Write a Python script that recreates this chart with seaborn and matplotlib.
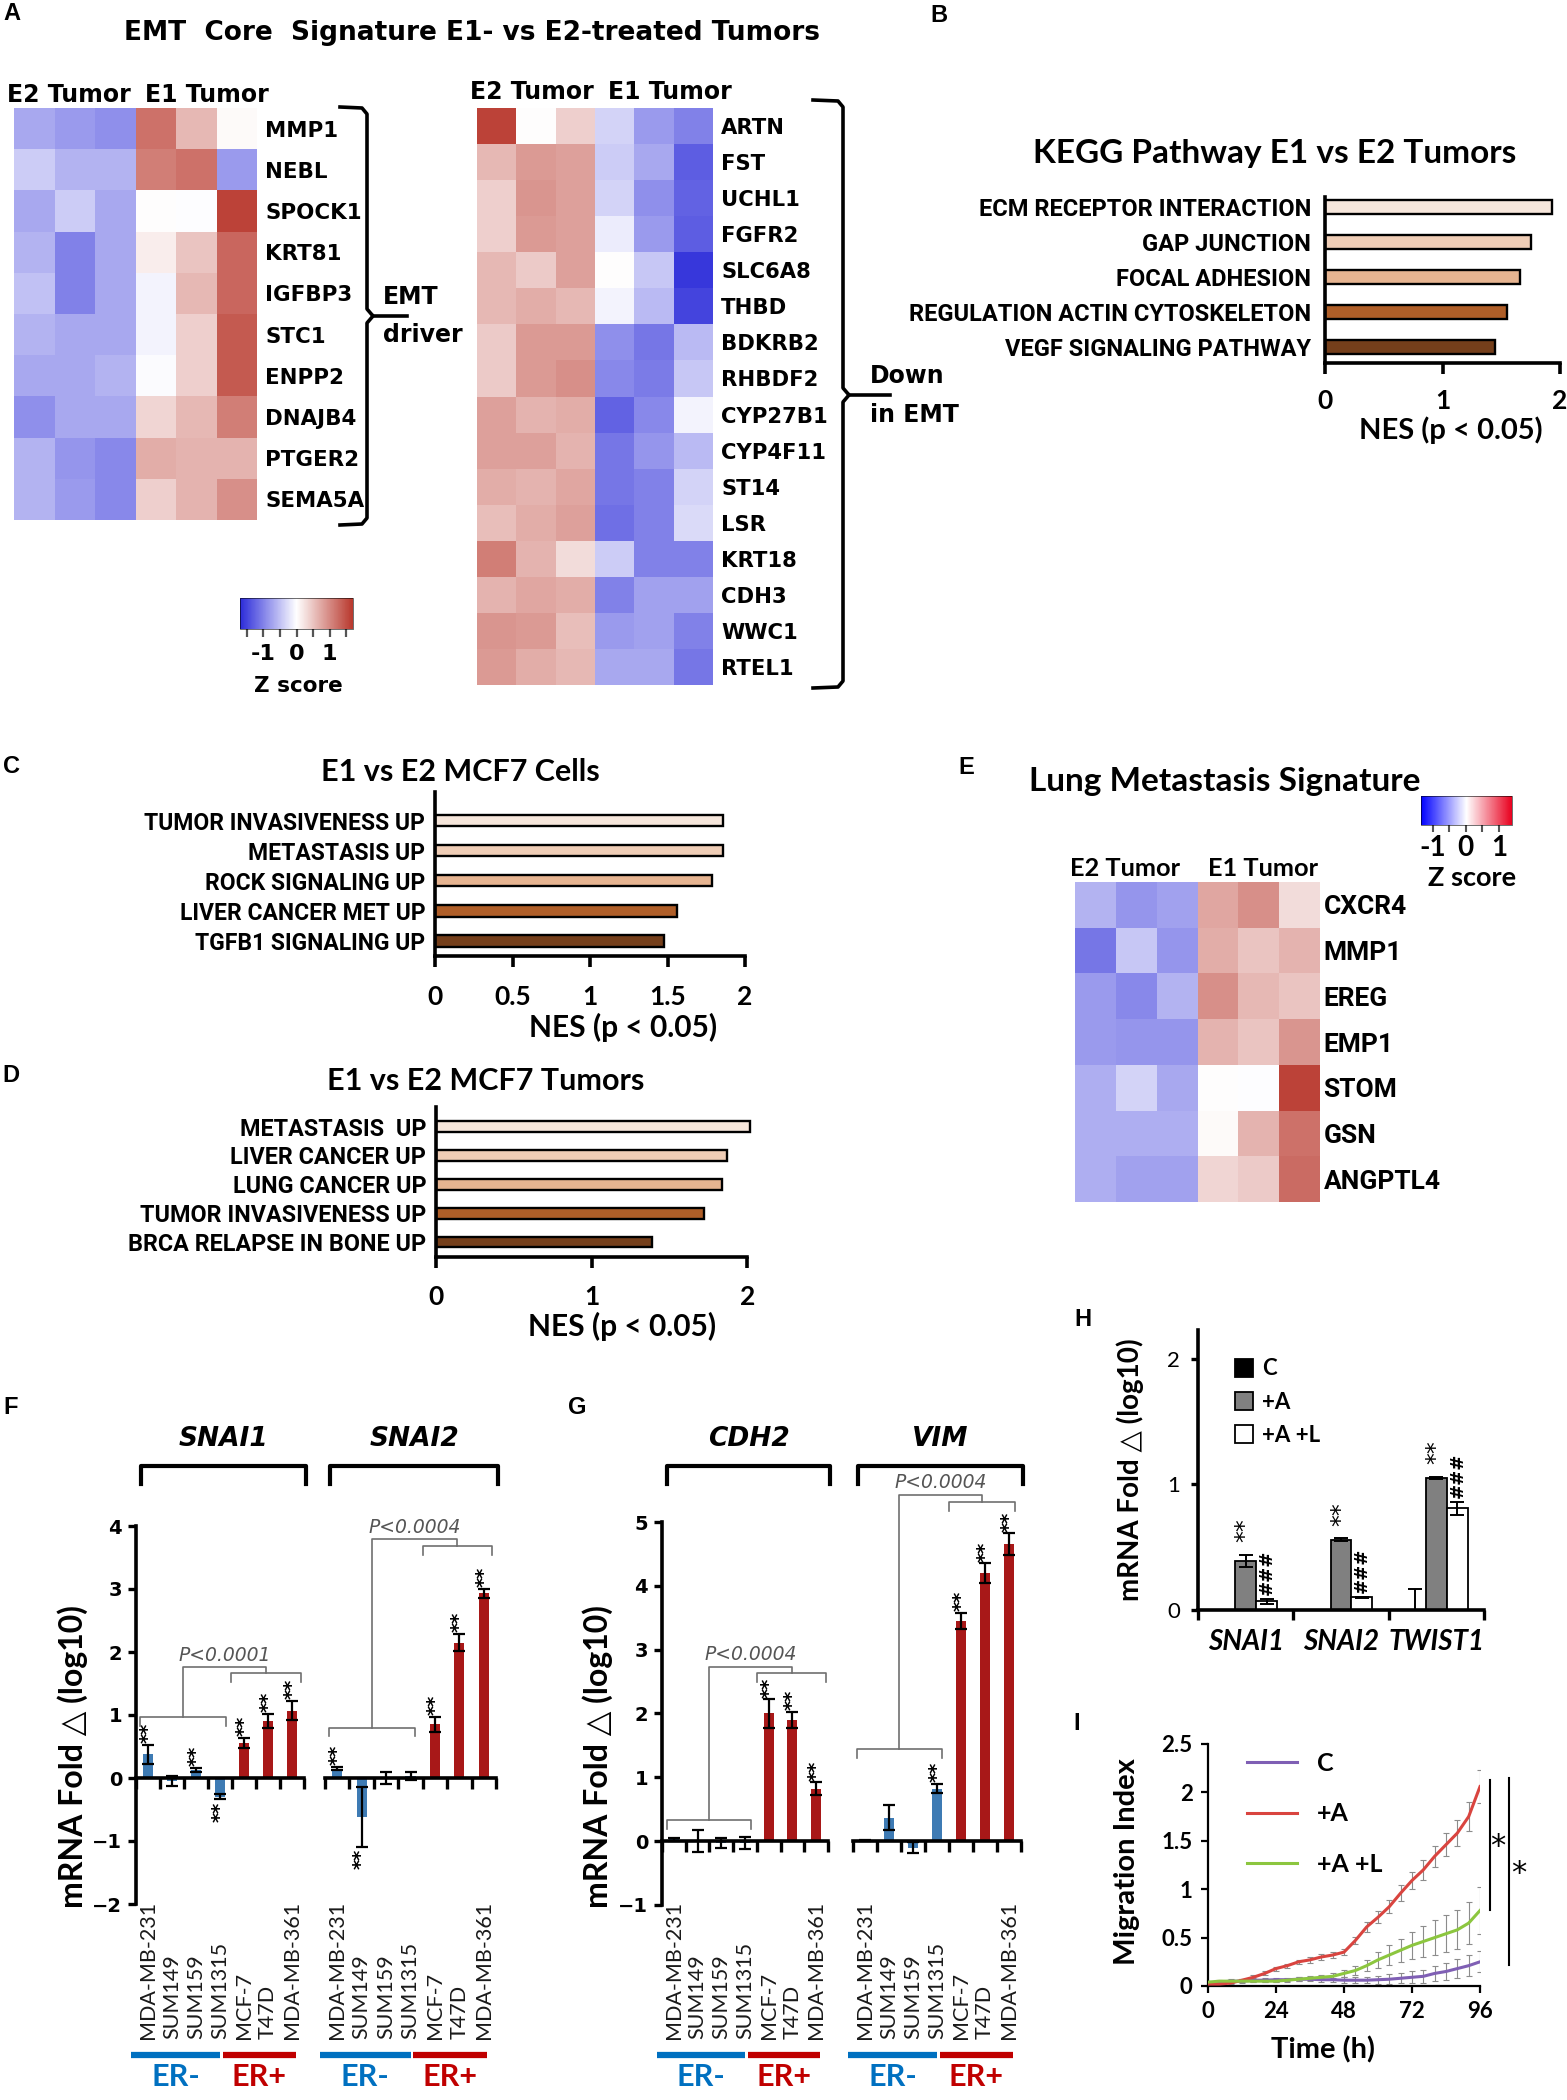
import matplotlib
matplotlib.use("Agg")
import matplotlib.pyplot as plt
import matplotlib.transforms as mtransforms
from matplotlib.cm import ScalarMappable
from matplotlib.colors import LinearSegmentedColormap, Normalize
from matplotlib.container import BarContainer
from matplotlib.lines import Line2D
import numpy as np
import pandas as pd
import seaborn as sns

W, H = 1567, 2100

VERD = ["DejaVu Sans"]
ARIAL = ["Liberation Sans", "DejaVu Sans"]
NARROW = ["Roboto", "DejaVu Sans"]
CAL = ["Lato", "DejaVu Sans"]

# ---------------- data ----------------
samples = ["E2 T1", "E2 T2", "E2 T3", "E1 T1", "E1 T2", "E1 T3"]

driver_genes = ["MMP1", "NEBL", "SPOCK1", "KRT81", "IGFBP3", "STC1", "ENPP2",
                "DNAJB4", "PTGER2", "SEMA5A"]
driver_z = [[-0.7, -0.8, -0.9, 1.2, 0.6, 0.05],
            [-0.4, -0.6, -0.6, 1.1, 1.2, -0.8],
            [-0.7, -0.4, -0.7, 0.02, -0.02, 1.6],
            [-0.6, -1.0, -0.7, 0.15, 0.5, 1.3],
            [-0.5, -1.0, -0.7, -0.1, 0.6, 1.3],
            [-0.6, -0.7, -0.7, -0.1, 0.4, 1.4],
            [-0.7, -0.7, -0.6, -0.03, 0.4, 1.4],
            [-0.9, -0.7, -0.7, 0.35, 0.6, 1.1],
            [-0.6, -0.85, -0.95, 0.7, 0.65, 0.65],
            [-0.6, -0.8, -0.95, 0.4, 0.65, 0.95]]

down_genes = ["ARTN", "FST", "UCHL1", "FGFR2", "SLC6A8", "THBD", "BDKRB2", "RHBDF2",
              "CYP27B1", "CYP4F11", "ST14", "LSR", "KRT18", "CDH3", "WWC1", "RTEL1"]
down_z = [[1.6, 0.02, 0.4, -0.35, -0.8, -1.0],
          [0.6, 0.85, 0.8, -0.4, -0.7, -1.3],
          [0.4, 0.9, 0.8, -0.35, -0.9, -1.25],
          [0.4, 0.85, 0.8, -0.15, -0.8, -1.3],
          [0.6, 0.45, 0.8, 0.02, -0.45, -1.6],
          [0.6, 0.7, 0.6, -0.1, -0.55, -1.5],
          [0.45, 0.85, 0.85, -0.9, -1.1, -0.55],
          [0.45, 0.85, 0.95, -0.95, -1.05, -0.45],
          [0.8, 0.65, 0.7, -1.25, -0.95, -0.1],
          [0.8, 0.8, 0.65, -1.1, -0.85, -0.55],
          [0.7, 0.65, 0.75, -1.1, -1.0, -0.35],
          [0.55, 0.7, 0.8, -1.15, -1.0, -0.3],
          [1.1, 0.65, 0.3, -0.4, -1.0, -1.0],
          [0.65, 0.75, 0.7, -1.0, -0.75, -0.75],
          [0.9, 0.85, 0.55, -0.8, -0.75, -1.0],
          [0.85, 0.7, 0.6, -0.7, -0.7, -1.1]]

lung_genes = ["CXCR4", "MMP1", "EREG", "EMP1", "STOM", "GSN", "ANGPTL4"]
lung_z = [[-0.6, -0.85, -0.75, 0.75, 0.95, 0.3],
          [-1.1, -0.45, -0.85, 0.7, 0.5, 0.65],
          [-0.8, -0.95, -0.6, 0.95, 0.6, 0.5],
          [-0.8, -0.85, -0.85, 0.65, 0.5, 0.9],
          [-0.65, -0.35, -0.7, 0.02, -0.02, 1.6],
          [-0.65, -0.65, -0.65, 0.05, 0.65, 1.2],
          [-0.65, -0.75, -0.75, 0.35, 0.45, 1.25]]

kegg_terms = ["ECM RECEPTOR INTERACTION", "GAP JUNCTION", "FOCAL ADHESION",
              "REGULATION ACTIN CYTOSKELETON", "VEGF SIGNALING PATHWAY"]
kegg_nes = [1.93, 1.75, 1.66, 1.55, 1.45]
cells_terms = ["TUMOR INVASIVENESS UP", "METASTASIS UP", "ROCK SIGNALING UP",
               "LIVER CANCER MET UP", "TGFB1 SIGNALING UP"]
cells_nes = [1.86, 1.86, 1.79, 1.56, 1.48]
tumor_terms = ["METASTASIS  UP", "LIVER CANCER UP", "LUNG CANCER UP",
               "TUMOR INVASIVENESS UP", "BRCA RELAPSE IN BONE UP"]
tumor_nes = [2.02, 1.87, 1.84, 1.72, 1.39]
nes_colors = ["#FBE5D6", "#F8CBAD", "#F4B183", "#C55A11", "#843C0C"]

cell_lines = ["MDA-MB-231", "SUM149", "SUM159", "SUM1315", "MCF-7", "T47D", "MDA-MB-361"]
er_status = ["ER-", "ER-", "ER-", "ER-", "ER+", "ER+", "ER+"]
snai1_val = [0.38, -0.05, 0.13, -0.3, 0.55, 0.9, 1.07]
snai1_err = [0.15, 0.08, 0.03, 0.04, 0.08, 0.11, 0.15]
snai1_sig = ["**", "", "**", "**", "**", "**", "**"]
snai2_val = [0.15, -0.62, 0.0, 0.03, 0.85, 2.15, 2.93]
snai2_err = [0.02, 0.48, 0.09, 0.06, 0.12, 0.13, 0.07]
snai2_sig = ["**", "**", "", "", "**", "**", "**"]
cdh2_val = [0.03, 0.0, -0.03, -0.03, 2.0, 1.9, 0.82]
cdh2_err = [0.02, 0.17, 0.08, 0.1, 0.22, 0.13, 0.1]
cdh2_sig = ["", "", "", "", "**", "**", "**"]
vim_val = [0.01, 0.37, -0.1, 0.82, 3.45, 4.2, 4.65]
vim_err = [0.01, 0.2, 0.08, 0.07, 0.13, 0.15, 0.17]
vim_sig = ["", "", "", "**", "**", "**", "**"]

h_genes = ["SNAI1", "SNAI2", "TWIST1"]
h_treat = ["C", "+A", "+A +L"]
h_c = [0.0, 0.0, 0.0]
h_c_err = [0.0, 0.0, 0.17]
h_a = [0.39, 0.56, 1.05]
h_a_err = [0.05, 0.01, 0.01]
h_al = [0.07, 0.1, 0.81]
h_al_err = [0.02, 0.005, 0.05]
h_a_sig = ["**", "**", "**"]
h_al_sig = ["###", "###", "###"]

time_h = [0, 4, 8, 12, 16, 20, 24, 28, 32, 36, 40, 44, 48,
          52, 56, 60, 64, 68, 72, 76, 80, 84, 88, 92, 96]
mig_c = [0.03, 0.04, 0.05, 0.05, 0.06, 0.06, 0.065, 0.065, 0.07, 0.07, 0.065, 0.065, 0.06,
         0.06, 0.06, 0.065, 0.07, 0.08, 0.09, 0.1, 0.13, 0.15, 0.18, 0.21, 0.25]
mig_c_err = [0.01, 0.01, 0.02, 0.02, 0.02, 0.02, 0.02, 0.02, 0.02, 0.02, 0.02, 0.02, 0.03,
             0.03, 0.03, 0.04, 0.05, 0.05, 0.06, 0.07, 0.08, 0.09, 0.1, 0.11, 0.11]
mig_a = [0.02, 0.02, 0.03, 0.06, 0.09, 0.13, 0.18, 0.21, 0.25, 0.27, 0.3, 0.32, 0.35,
         0.47, 0.61, 0.71, 0.82, 0.96, 1.09, 1.2, 1.34, 1.46, 1.58, 1.75, 2.06]
mig_a_err = [0.01, 0.01, 0.01, 0.01, 0.02, 0.02, 0.02, 0.02, 0.02, 0.03, 0.03, 0.03, 0.03,
             0.04, 0.05, 0.06, 0.07, 0.08, 0.09, 0.1, 0.11, 0.12, 0.13, 0.15, 0.17]
mig_al = [0.04, 0.05, 0.05, 0.05, 0.05, 0.05, 0.05, 0.06, 0.07, 0.08, 0.09, 0.1, 0.13,
          0.16, 0.21, 0.27, 0.32, 0.37, 0.42, 0.46, 0.5, 0.54, 0.58, 0.65, 0.78]
mig_al_err = [0.01, 0.01, 0.01, 0.01, 0.01, 0.01, 0.01, 0.01, 0.02, 0.02, 0.02, 0.03, 0.04,
              0.05, 0.06, 0.08, 0.1, 0.12, 0.14, 0.16, 0.18, 0.19, 0.2, 0.22, 0.24]

BAR_BLUE = "#2A7BC8"
BAR_RED = "#C00000"
TXT_BLUE = "#0070C0"
zcmap = LinearSegmentedColormap.from_list("z", ["#2B2BD9", "#FFFFFF", "#B8372C"])
zcmap_bright = LinearSegmentedColormap.from_list("zb", ["#0000FF", "#FFFFFF", "#E8001E"])

fig = plt.figure(figsize=(W / 100, H / 100), dpi=100)


def axes_px(x0, y0, x1, y1):
    return fig.add_axes([x0 / W, 1 - y1 / H, (x1 - x0) / W, (y1 - y0) / H])


def ftext(x, y, s, **kw):
    kw.setdefault("ha", "center")
    kw.setdefault("va", "center")
    fig.text(x / W, 1 - y / H, s, **kw)


def fline(xs, ys, **kw):
    fig.add_artist(Line2D([x / W for x in xs], [1 - y / H for y in ys],
                          transform=fig.transFigure, **kw))


def letter(x, y, s):
    ftext(x, y, s, family=ARIAL, weight="bold", size=17)


def draw_heat(ax, z, genes, size, pad, family):
    df = pd.DataFrame(z, index=genes, columns=samples)
    sns.heatmap(df, ax=ax, cmap=zcmap, vmin=-1.7, vmax=1.7, cbar=False,
                xticklabels=False, yticklabels=True)
    ax.yaxis.tick_right()
    ax.tick_params(axis="y", length=0, pad=pad)
    plt.setp(ax.get_yticklabels(), rotation=0, family=family, weight="bold", size=size)
    ax.set_xlabel("")
    ax.set_ylabel("")


def draw_nes(ax, terms, nes, ylim, xmax, ticks, tlabels, lab_size, tick_size, pad, lpad):
    sns.barplot(x=nes, y=terms, hue=terms, palette=nes_colors, dodge=False, legend=False,
                orient="h", width=0.38, edgecolor="black", linewidth=1.7, ax=ax)
    ax.set_xlim(0, xmax)
    ax.set_ylim(*ylim)
    for s in ["top", "right"]:
        ax.spines[s].set_visible(False)
    for s in ["left", "bottom"]:
        ax.spines[s].set_linewidth(2.6)
    ax.spines["bottom"].set_bounds(0, 2)
    ax.set_xticks(ticks, labels=tlabels)
    ax.tick_params(axis="x", direction="out", length=8, width=2.6, pad=pad)
    ax.tick_params(axis="y", length=0, pad=lpad)
    plt.setp(ax.get_yticklabels(), family=NARROW, weight="bold", size=lab_size)
    plt.setp(ax.get_xticklabels(), family=CAL, weight="bold", size=tick_size)
    ax.set_xlabel("")
    ax.set_ylabel("")


def curly(x0, xv, xt, y0, ym, y1):
    kw = dict(color="black", lw=2.6, solid_joinstyle="round")
    fline([x0, xv - 5, xv, xv, xv + 6, xt], [y0, y0 + 1, y0 + 7, ym - 7, ym, ym], **kw)
    fline([xv + 6, xv, xv, xv - 5, x0], [ym, ym + 7, y1 - 7, y1 - 1, y1], **kw)


def pbracket(ax, a, ya, b, yb, ytop, text, ytext, leg=0.14):
    kw = dict(color="#707070", lw=1.2, clip_on=False)
    ax.plot([a[0], a[0], a[1], a[1]], [ya - leg, ya, ya, ya - leg], **kw)
    ax.plot([b[0], b[0], b[1], b[1]], [yb - leg, yb, yb, yb - leg], **kw)
    ma, mb = (a[0] + a[1]) / 2, (b[0] + b[1]) / 2
    ax.plot([ma, ma, mb, mb], [ya, ytop, ytop, yb], **kw)
    ax.text((ma + mb) / 2, ytext, text, ha="center", va="center", style="italic",
            color="#555555", fontsize=13.5, family=VERD, clip_on=False)


def draw_expr(ax, gene, vals, errs, sig, ylim, yticks, show_y):
    sns.barplot(x=cell_lines, y=vals, hue=er_status,
                palette={"ER-": BAR_BLUE, "ER+": BAR_RED}, dodge=False, legend=False,
                width=0.42, linewidth=0, ax=ax)
    ax.errorbar(range(len(vals)), vals, yerr=errs, fmt="none", ecolor="black",
                elinewidth=1.6, capsize=4, capthick=1.6, zorder=3)
    for i, s in enumerate(sig):
        if not s:
            continue
        if vals[i] >= 0:
            ax.text(i, vals[i] + errs[i] + 0.03, s, rotation=90, ha="center", va="bottom",
                    fontsize=14, fontweight="bold", clip_on=False)
        else:
            ax.text(i, vals[i] - errs[i] - 0.03, s, rotation=90, ha="center", va="top",
                    fontsize=14, fontweight="bold", clip_on=False)
    for s in ["top", "right"]:
        ax.spines[s].set_visible(False)
    ax.spines["bottom"].set_position(("data", 0))
    ax.spines["bottom"].set_linewidth(2.6)
    ax.set_xticks(np.arange(-0.5, 7, 1), labels=[])
    ax.tick_params(axis="x", direction="out", length=8, width=2.4)
    if show_y:
        ax.spines["left"].set_linewidth(2.6)
        ax.set_yticks(yticks)
        ax.tick_params(axis="y", direction="out", length=6, width=2.4, pad=4)
        plt.setp(ax.get_yticklabels(), family=VERD, weight="bold", size=14)
    else:
        ax.spines["left"].set_visible(False)
        ax.tick_params(axis="y", left=False, labelleft=False)
    ax.set_xlabel("")
    ax.set_ylabel("")
    tr = mtransforms.blended_transform_factory(ax.transData, fig.transFigure)
    for i, c in enumerate(cell_lines):
        ax.text(i, 1 - 2039 / H, c, transform=tr, rotation=90, ha="center", va="bottom",
                fontsize=15.5, family=CAL, color="#1a1a1a")
    yg = 1 - 2055 / H
    ax.plot([-0.7, 3.0], [yg, yg], transform=tr, color=TXT_BLUE, lw=4.5,
            solid_capstyle="butt", clip_on=False)
    ax.plot([3.12, 6.15], [yg, yg], transform=tr, color=BAR_RED, lw=4.5,
            solid_capstyle="butt", clip_on=False)
    ax.text(1.15, 1 - 2077 / H, "ER-", transform=tr, ha="center", va="center",
            fontsize=22, weight="bold", family=CAL, color=TXT_BLUE)
    ax.text(4.63, 1 - 2077 / H, "ER+", transform=tr, ha="center", va="center",
            fontsize=22, weight="bold", family=CAL, color=BAR_RED)
    yb0, yb1 = 1 - 1484 / H, 1 - 1466 / H
    ax.plot([-0.3, -0.3, 6.6, 6.6], [yb0, yb1, yb1, yb0], transform=tr, color="black",
            lw=3.0, clip_on=False)
    ax.text(3.15, 1 - 1439 / H, gene, transform=tr, ha="center", va="center", fontsize=19,
            weight="bold", style="italic", family=VERD)
    ax.set_xlim(-0.5, 6.5)
    ax.set_ylim(*ylim)


# ---------------- panel A ----------------
letter(12, 14, "A")
ftext(472, 33, "EMT  Core  Signature E1- vs E2-treated Tumors", family=VERD,
      weight="bold", size=19)

ax = axes_px(14, 108, 257, 520)
draw_heat(ax, driver_z, driver_genes, 15.4, 6, VERD)
ftext(69, 95, "E2 Tumor", family=VERD, weight="bold", size=17)
ftext(207, 95, "E1 Tumor", family=VERD, weight="bold", size=17)
curly(340, 367, 407, 107, 316, 525)
ftext(383, 297, "EMT", ha="left", family=VERD, weight="bold", size=17)
ftext(383, 335, "driver", ha="left", family=VERD, weight="bold", size=17)

ax = axes_px(477, 108, 713, 685)
draw_heat(ax, down_z, down_genes, 15.2, 6, VERD)
ftext(532, 92, "E2 Tumor", family=VERD, weight="bold", size=17)
ftext(670, 92, "E1 Tumor", family=VERD, weight="bold", size=17)
curly(813, 843, 890, 100, 395, 688)
ftext(870, 376, "Down", ha="left", family=VERD, weight="bold", size=17)
ftext(870, 415, "in EMT", ha="left", family=VERD, weight="bold", size=17)

cax = axes_px(240, 598, 353, 629)
cb = fig.colorbar(ScalarMappable(Normalize(-1.7, 1.7), zcmap), cax=cax,
                  orientation="horizontal")
cb.set_ticks([-1.5, -1, -0.5, 0, 0.5, 1, 1.5])
cb.set_ticklabels(["", "-1", "", "0", "", "1", ""])
cb.outline.set_linewidth(0.4)
cax.tick_params(length=6, width=1.6, color="#555555", pad=5)
plt.setp(cax.get_xticklabels(), family=VERD, weight="bold", size=16)
ftext(298, 686, "Z score", family=VERD, weight="bold", size=15.5)

# ---------------- panel B ----------------
letter(939, 16, "B")
ftext(1275, 153, "KEGG Pathway E1 vs E2 Tumors", family=CAL, weight="bold", size=24)
ax = axes_px(1325, 197, 1560, 363)
draw_nes(ax, kegg_terms, kegg_nes, (4.46, -0.29), 2.0, [0, 1, 2], ["0", "1", "2"],
         17, 19, 11, 10)
ftext(1451, 430, "NES (p < 0.05)", family=CAL, weight="bold", size=21)

# ---------------- panel C ----------------
letter(11, 766, "C")
ftext(460, 772, "E1 vs E2 MCF7 Cells", family=CAL, weight="bold", size=22)
ax = axes_px(435, 792, 745, 956)
draw_nes(ax, cells_terms, cells_nes, (4.5, -0.95), 2.0, [0, 0.5, 1, 1.5, 2],
         ["0", "0.5", "1", "1.5", "2"], 16.5, 19, 13, 7)
ftext(623, 1027, "NES (p < 0.05)", family=CAL, weight="bold", size=21.5)

# ---------------- panel D ----------------
letter(11, 1076, "D")
ftext(486, 1081, "E1 vs E2 MCF7 Tumors", family=CAL, weight="bold", size=22)
ax = axes_px(436, 1107, 752, 1257)
draw_nes(ax, tumor_terms, tumor_nes, (4.52, -0.68), 2.03, [0, 1, 2], ["0", "1", "2"],
         16.8, 19, 12, 7)
ftext(622, 1326, "NES (p < 0.05)", family=CAL, weight="bold", size=21.5)

# ---------------- panel E ----------------
letter(966, 768, "E")
ftext(1225, 782, "Lung Metastasis Signature", family=CAL, weight="bold", size=24)
ax = axes_px(1075, 882, 1320, 1202)
draw_heat(ax, lung_z, lung_genes, 19, 2.5, NARROW)
ftext(1125, 868, "E2 Tumor", family=CAL, weight="bold", size=18.3)
ftext(1263, 868, "E1 Tumor", family=CAL, weight="bold", size=18.3)
cax = axes_px(1421, 796, 1512, 825)
cb = fig.colorbar(ScalarMappable(Normalize(-1.36, 1.4), zcmap_bright), cax=cax,
                  orientation="horizontal")
cb.set_ticks([-1, -0.5, 0, 0.5, 1])
cb.set_ticklabels(["-1", "", "0", "", "1"])
cb.outline.set_linewidth(0.4)
cax.tick_params(length=5, width=1.5, color="#555555", pad=2)
plt.setp(cax.get_xticklabels(), family=CAL, weight="bold", size=20)
ftext(1472, 878, "Z score", family=CAL, weight="bold", size=19.5)

# ---------------- panel F ----------------
letter(11, 1408, "F")
ax = axes_px(136, 1526, 304, 1904)
draw_expr(ax, "SNAI1", snai1_val, snai1_err, snai1_sig, (-2, 4), [-2, -1, 0, 1, 2, 3, 4], True)
pbracket(ax, (-0.33, 3.25), 0.97, (3.46, 6.37), 1.66, 1.76, "P<0.0001", 1.94)
ax = axes_px(325, 1526, 496, 1904)
draw_expr(ax, "SNAI2", snai2_val, snai2_err, snai2_sig, (-2, 4), [], False)
pbracket(ax, (-0.33, 3.2), 0.8, (3.5, 6.33), 3.68, 3.79, "P<0.0004", 3.98)
ftext(73, 1757, "mRNA Fold \u25b3 (log10)", rotation=90, family=CAL, weight="bold", size=23)

# ---------------- panel G ----------------
letter(577, 1408, "G")
ax = axes_px(662, 1522, 828, 1905)
draw_expr(ax, "CDH2", cdh2_val, cdh2_err, cdh2_sig, (-1, 5), [-1, 0, 1, 2, 3, 4, 5], True)
pbracket(ax, (-0.3, 3.26), 0.33, (3.51, 6.43), 2.64, 2.73, "P<0.0004", 2.92)
ax = axes_px(853, 1522, 1021, 1905)
draw_expr(ax, "VIM", vim_val, vim_err, vim_sig, (-1, 5), [], False)
pbracket(ax, (-0.34, 3.2), 1.45, (3.5, 6.24), 5.32, 5.43, "P<0.0004", 5.62)
ftext(598, 1757, "mRNA Fold \u25b3 (log10)", rotation=90, family=CAL, weight="bold", size=23)

# ---------------- panel H ----------------
letter(1083, 1320, "H")
ax = axes_px(1198, 1330, 1484, 1610)
h_df = pd.DataFrame({
    "gene": h_genes * 3,
    "treat": [t for t in h_treat for _ in h_genes],
    "val": h_c + h_a + h_al,
})
sns.barplot(data=h_df, x="gene", y="val", hue="treat", hue_order=h_treat,
            palette=["black", "#808080", "white"], edgecolor="black", linewidth=1.3,
            width=0.66, errorbar=None, ax=ax)
h_errs = [h_c_err, h_a_err, h_al_err]
h_vals = [h_c, h_a, h_al]
bar_conts = [c for c in ax.containers if isinstance(c, BarContainer)]
for k, cont in enumerate(bar_conts):
    xs = [b.get_x() + b.get_width() / 2 for b in cont]
    ax.errorbar(xs, h_vals[k], yerr=h_errs[k], fmt="none", ecolor="black",
                elinewidth=1.4, capsize=5, capthick=1.4, zorder=3)
    if k == 1:
        for x, v, e, s in zip(xs, h_vals[k], h_errs[k], h_a_sig):
            ax.text(x, v + e + 0.1, s, rotation=90, ha="center", va="bottom",
                    fontsize=17, color="black")
    if k == 2:
        for x, v, e, s in zip(xs, h_vals[k], h_errs[k], h_al_sig):
            ax.text(x, v + e + 0.03, s, rotation=90, ha="center", va="bottom",
                    fontsize=13, weight="bold", color="black")
ax.set_xlim(-0.5, 2.5)
ax.set_ylim(0, 2.23)
for s in ["top", "right"]:
    ax.spines[s].set_visible(False)
for s in ["left", "bottom"]:
    ax.spines[s].set_linewidth(2.6)
ax.set_xticks([-0.5, 0.5, 1.5, 2.5], labels=[])
ax.set_xticks([0, 1, 2], labels=h_genes, minor=True)
ax.tick_params(axis="x", which="major", direction="out", length=7, width=2.4)
ax.tick_params(axis="x", which="minor", length=0, pad=14)
plt.setp(ax.get_xticklabels(minor=True), family=CAL, weight="bold", style="italic", size=20)
ax.set_yticks([0, 1, 2])
ax.tick_params(axis="y", direction="out", length=5, width=2.4, pad=8)
plt.setp(ax.get_yticklabels(), family=CAL, size=16)
ax.set_xlabel("")
ax.set_ylabel("")
ax.legend(loc="upper left", bbox_to_anchor=(0.06, 0.97), frameon=False,
          handlelength=0.8, handleheight=0.9, handletextpad=0.4, labelspacing=0.55,
          prop={"family": CAL, "weight": "bold", "size": 16})
ftext(1130, 1470, "mRNA Fold \u25b3 (log10)", rotation=90, family=CAL, weight="bold", size=20)

# ---------------- panel I ----------------
letter(1077, 1723, "I")
ax = axes_px(1208, 1744, 1480, 1986)
series = [("C", mig_c, mig_c_err, "#7F5FB4"),
          ("+A", mig_a, mig_a_err, "#D9443F"),
          ("+A +L", mig_al, mig_al_err, "#8CC63F")]
for name, vals, errs, col in series:
    ax.errorbar(time_h, vals, yerr=errs, fmt="none", ecolor="#8c8c8c", elinewidth=0.8,
                capsize=2, capthick=0.8, zorder=1)
for name, vals, errs, col in series:
    sns.lineplot(x=time_h, y=vals, color=col, lw=2.2, label=name, ax=ax, zorder=3)
ax.set_xlim(0, 96)
ax.set_ylim(0, 2.5)
for s in ["top", "right"]:
    ax.spines[s].set_visible(False)
for s in ["left", "bottom"]:
    ax.spines[s].set_linewidth(1.6)
ax.set_xticks([0, 24, 48, 72, 96])
ax.set_yticks([0, 0.5, 1, 1.5, 2, 2.5], labels=["0", "0.5", "1", "1.5", "2", "2.5"])
ax.tick_params(direction="out", length=5, width=1.6, pad=6)
plt.setp(ax.get_xticklabels() + ax.get_yticklabels(), family=CAL, weight="bold", size=16)
ax.set_xlabel("")
ax.set_ylabel("")
ax.legend(loc="upper left", bbox_to_anchor=(0.06, 1.06), frameon=False, handlelength=2.0,
          labelspacing=1.1, prop={"family": CAL, "weight": "bold", "size": 18})
ax.plot([99.6, 99.6], [0.78, 2.13], color="black", lw=1.5, clip_on=False)
ax.text(102.4, 1.44, "*", ha="center", va="center", fontsize=22, clip_on=False)
ax.plot([106.3, 106.3], [0.22, 2.15], color="black", lw=1.5, clip_on=False)
ax.text(109.5, 1.16, "*", ha="center", va="center", fontsize=22, clip_on=False)
ftext(1127, 1862, "Migration Index", rotation=90, family=CAL, weight="bold", size=21)
ftext(1323, 2050, "Time (h)", family=CAL, weight="bold", size=21)

fig.savefig("out.png", dpi=100, facecolor="white")
